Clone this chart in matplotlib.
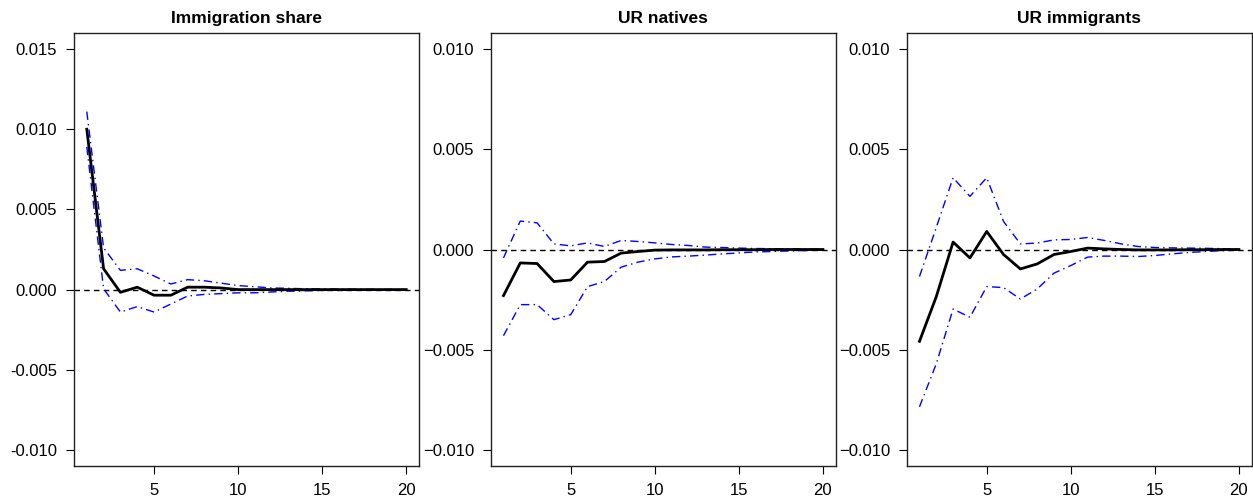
import matplotlib
matplotlib.use("Agg")
import matplotlib.pyplot as plt
import numpy as np

plt.rcParams['font.family'] = ['Liberation Sans', 'DejaVu Sans']

periods = list(range(1, 21))
titles = ["Immigration share", "UR natives", "UR immigrants"]

imm_share_irf = [0.0100, 0.0013, -0.00017, 0.00015, -0.00035, -0.00035, 0.00015, 0.00015, 0.0001, 0.0,
                 0.0, 0.0, 0.0, 0.0, 0.0, 0.0, 0.0, 0.0, 0.0, 0.0]
imm_share_upper = [0.0111, 0.0026, 0.0012, 0.0013, 0.00085, 0.00035, 0.00062, 0.00055, 0.0004, 0.00025,
                   0.00018, 0.0001, 0.00008, 0.00005, 0.00004, 0.00003, 0.00002, 0.00001, 0.00001, 0.0]
imm_share_lower = [0.0089, 0.00005, -0.0014, -0.00106, -0.0014, -0.0009, -0.0004, -0.0003, -0.00025, -0.0002,
                   -0.0002, -0.00015, -0.0001, -0.00008, -0.00005, -0.00004, -0.00003, -0.00002, -0.00001, 0.0]

ur_nat_irf = [-0.0023, -0.00067, -0.0007, -0.0016, -0.00152, -0.00063, -0.0006, -0.00018, -0.0001, -0.00003,
              -0.00002, -0.00002, -0.00002, -0.00001, -0.00001, -0.00001, 0.0, 0.0, 0.0, 0.0]
ur_nat_upper = [-0.00042, 0.00142, 0.00133, 0.00028, 0.00018, 0.00033, 0.00015, 0.00045, 0.0004, 0.00033,
                0.00025, 0.0002, 0.00012, 0.0001, 0.00007, 0.00005, 0.00004, 0.00003, 0.00002, 0.00001]
ur_nat_lower = [-0.0043, -0.00275, -0.00275, -0.0035, -0.00325, -0.00185, -0.0016, -0.00088, -0.00063, -0.00047,
                -0.00037, -0.00033, -0.00028, -0.00022, -0.00017, -0.00012, -0.0001, -0.00007, -0.00005, -0.00003]

ur_imm_irf = [-0.00458, -0.00235, 0.00037, -0.00042, 0.0009, -0.00025, -0.00097, -0.00072, -0.00025, -0.0001,
              0.00007, 0.00003, 0.0, -0.00002, -0.00002, -0.00002, -0.00001, -0.00001, 0.0, 0.0]
ur_imm_upper = [-0.00135, 0.0011, 0.00358, 0.00265, 0.00358, 0.0014, 0.00028, 0.00032, 0.00048, 0.0005,
                0.0006, 0.00045, 0.00028, 0.00015, 0.0001, 0.00008, 0.00007, 0.00006, 0.00004, 0.00002]
ur_imm_lower = [-0.00785, -0.0057, -0.00297, -0.00338, -0.00185, -0.0019, -0.00247, -0.00197, -0.00118, -0.0008,
                -0.00038, -0.00033, -0.00033, -0.00035, -0.0003, -0.00022, -0.00015, -0.0001, -0.00006, -0.00003]

series = [(imm_share_irf, imm_share_upper, imm_share_lower),
          (ur_nat_irf, ur_nat_upper, ur_nat_lower),
          (ur_imm_irf, ur_imm_upper, ur_imm_lower)]
yticks_list = [[-0.010, -0.005, 0.0, 0.005, 0.010, 0.015],
               [-0.010, -0.005, 0.0, 0.005, 0.010],
               [-0.010, -0.005, 0.0, 0.005, 0.010]]
ylims = [(-0.011, 0.016), (-0.0108, 0.0108), (-0.0108, 0.0108)]
xticks = [5, 10, 15, 20]

fig = plt.figure(figsize=(12.53, 4.99), dpi=100)
lefts_px = [74, 490.7, 906.7]
W, H = 1253, 499
for i, left in enumerate(lefts_px):
    ax = fig.add_axes([left / W, 1 - 466 / H, 345 / W, 433 / H])
    irf, up, lo = series[i]
    ax.axhline(0, color='black', lw=1.0, ls=(0, (4, 3)))
    ax.plot(periods, up, color='blue', lw=1.0, ls=(0, (6, 3, 1, 3)))
    ax.plot(periods, lo, color='blue', lw=1.0, ls=(0, (6, 3, 1, 3)))
    ax.plot(periods, irf, color='black', lw=2.0)
    ax.set_xlim(0.24, 20.76)
    ax.set_ylim(*ylims[i])
    ax.set_xticks(xticks)
    ax.set_yticks(yticks_list[i])
    ax.set_yticklabels([f"{v:.3f}".replace("-", "\u2212") if i > 0 else f"{v:.3f}" for v in yticks_list[i]])
    ax.tick_params(direction='out', length=6, width=0.8, labelsize=12, pad=6)
    for s in ax.spines.values():
        s.set_linewidth(1.0)
        s.set_color('#222222')
    ax.set_title(titles[i], fontsize=12.5, fontweight='bold', pad=7)

fig.savefig("out.png", dpi=100)
